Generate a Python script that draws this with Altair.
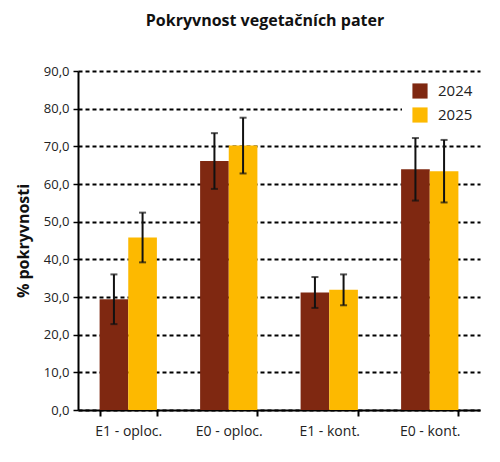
import altair as alt
import pandas as pd

groups = ["E1 - oploc.", "E0 - oploc.", "E1 - kont.", "E0 - kont."]
years = ["2024", "2025"]
mean_2024 = [29.4, 66.1, 31.2, 63.9]
mean_2025 = [45.8, 70.2, 31.9, 63.4]
err_2024 = [6.6, 7.4, 4.1, 8.3]
err_2025 = [6.6, 7.4, 4.1, 8.3]
y_ticks = [0, 10, 20, 30, 40, 50, 60, 70, 80, 90]

rows = []
for g, m, e in zip(groups, mean_2024, err_2024):
    rows.append({"group": g, "year": "2024", "value": m, "lo": m - e, "hi": m + e})
for g, m, e in zip(groups, mean_2025, err_2025):
    rows.append({"group": g, "year": "2025", "value": m, "lo": m - e, "hi": m + e})
df = pd.DataFrame(rows)

FONT = "Open Sans"

x_scale = alt.Scale(paddingInner=0.43, paddingOuter=0.215)
y_scale = alt.Scale(domain=[0, 90], nice=False)

x_axis = alt.Axis(
    labelAngle=0, labelFontSize=14, labelColor="#222", labelFont=FONT,
    labelPadding=8, domainColor="#000", domainWidth=2,
    tickBand="extent", tickColor="#000", tickWidth=2, tickSize=6,
)
y_axis = alt.Axis(
    values=y_ticks,
    labelExpr="replace(format(datum.value, '.1f'), '.', ',')",
    labelFontSize=13, labelColor="#222", labelFont=FONT, labelPadding=4,
    labelOverlap=False,
    titleFont=FONT, titleFontSize=16, titleFontWeight="bold",
    titleColor="#111", titlePadding=12,
    domainColor="#000", domainWidth=2,
    tickColor="#000", tickWidth=1.5, tickSize=5,
    grid=True, gridColor="#000", gridDash=[4, 3], gridWidth=2,
)

x_enc = alt.X("group:N", sort=groups, title=None, scale=x_scale, axis=x_axis)
off_enc = alt.XOffset("year:N", sort=years)

bars = (
    alt.Chart(df)
    .mark_bar()
    .encode(
        x=x_enc,
        xOffset=off_enc,
        y=alt.Y("value:Q", scale=y_scale, title="% pokryvnosti", axis=y_axis),
        color=alt.Color(
            "year:N",
            scale=alt.Scale(domain=years, range=["#7f2811", "#fdb900"]),
            legend=alt.Legend(
                title=None, orient="none", legendX=324, legendY=2,
                symbolType="square", symbolSize=230, symbolStrokeWidth=0,
                labelFontSize=15, labelFont=FONT, labelColor="#222",
                rowPadding=8, padding=10, fillColor="white",
                labelOffset=10,
            ),
        ),
    )
)

rules = (
    alt.Chart(df)
    .mark_rule(color="#111", strokeWidth=2)
    .encode(
        x=x_enc,
        xOffset=off_enc,
        y=alt.Y("lo:Q", scale=y_scale, title="% pokryvnosti", axis=y_axis),
        y2="hi:Q",
    )
)

caps_lo = (
    alt.Chart(df)
    .mark_tick(color="#111", size=7, thickness=2)
    .encode(
        x=x_enc,
        xOffset=off_enc,
        y=alt.Y("lo:Q", scale=y_scale, title="% pokryvnosti", axis=y_axis),
    )
)
caps_hi = caps_lo.encode(
    y=alt.Y("hi:Q", scale=y_scale, title="% pokryvnosti", axis=y_axis)
)

chart = (
    alt.layer(bars, rules, caps_lo, caps_hi)
    .properties(
        width=402,
        height=339,
        autosize=alt.AutoSizeParams(type="none"),
        padding={"left": 70, "top": 63, "right": 12, "bottom": 45},
        title=alt.TitleParams(
            "Pokryvnost vegetačních pater",
            font=FONT, fontSize=16, fontWeight="bold", color="#111",
            anchor="middle", offset=36, dx=-14,
        ),
    )
    .configure_view(strokeWidth=0)
)

chart.save("out.html", embed_options={"renderer": "svg", "actions": False})
